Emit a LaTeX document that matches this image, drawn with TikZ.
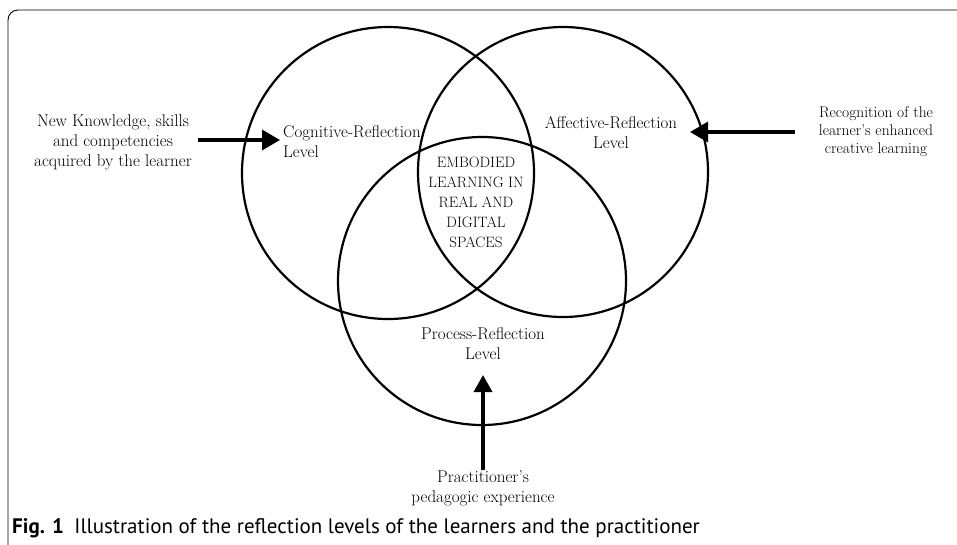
\documentclass[tikz,border=0pt]{standalone}
\usepackage{fontspec}
\newfontfamily\capfont{PT Sans}
\usetikzlibrary{arrows.meta}
\begin{document}
\begin{tikzpicture}[x=1pt,y=-1pt,
  ring/.style={circle, draw, line width=2.2pt, inner sep=0pt},
  lbl/.style={align=center, font=\fontsize{17}{20}\selectfont, inner sep=0pt},
  flow/.style={line width=3.4pt, -{Triangle[length=18pt,width=20pt]}},
]
\useasboundingbox (0,0) rectangle (957,544);
\draw[line width=0.9pt, rounded corners=10pt] (8,550) -- (8,10) -- (965,10);
% circles
\node[ring, minimum size=292pt] (cog) at (388,173) {};
\node[ring, minimum size=290pt] (aff) at (563,172) {};
\node[ring, minimum size=288pt] (pro) at (482,281) {};
% labels
\node[lbl] (newk) at (113,142) {New Knowledge, skills\\and competencies\\acquired by the learner};
\node[lbl, align=left, anchor=west] (cogl) at (283,142) {Cognitive-Reflection\\Level};
\node[lbl] (affl) at (611,133) {Affective-Reflection\\Level};
\node[lbl, font=\fontsize{15.5}{18}\selectfont] (recog) at (876,132) {Recognition of the\\learner’s enhanced\\creative learning};
\node[lbl, font=\fontsize{15}{20}\selectfont] (emb) at (476,202) {EMBODIED\\LEARNING IN\\REAL AND\\DIGITAL\\SPACES};
\node[lbl] (proc) at (483,344) {Process-Reflection\\Level};
\node[lbl] (prac) at (483,488) {Practitioner’s\\pedagogic experience};
% arrows
\coordinate (a1s) at (198,140); \coordinate (a1e) at (280,140);
\coordinate (a2s) at (795,132); \coordinate (a2e) at (690,132);
\coordinate (a3s) at (483,470); \coordinate (a3e) at (483,375);
\draw[flow] (a1s) -- (a1e);
\draw[flow] (a2s) -- (a2e);
\draw[flow, -{Triangle[length=17pt,width=18pt]}] (a3s) -- (a3e);
% caption
\node[anchor=west, font=\capfont\fontsize{21}{24}\selectfont, inner sep=0pt] (cap) at (12,528) {\textbf{Fig. 1}\enspace Illustration of the reflection levels of the learners and the practitioner};
\end{tikzpicture}
\end{document}
